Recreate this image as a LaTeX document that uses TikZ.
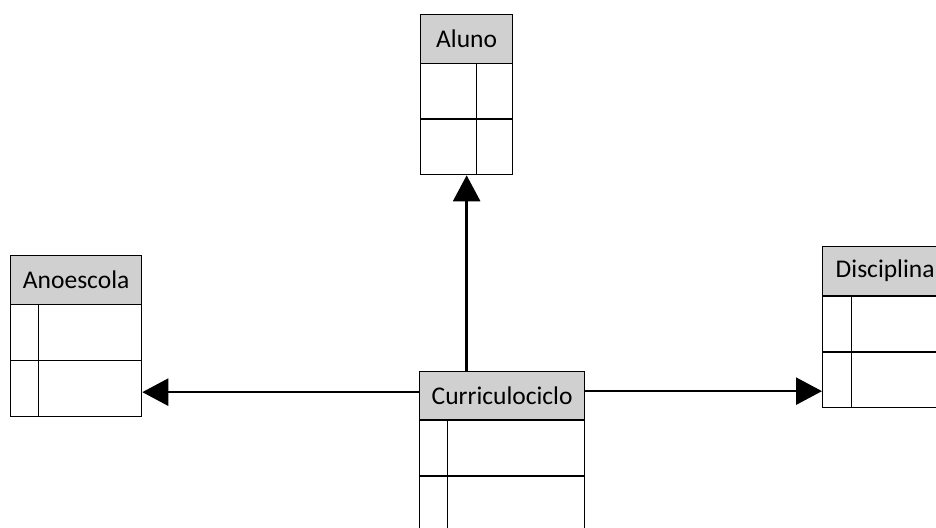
\documentclass[tikz,border=0pt]{standalone}
\usepackage{fontspec}
\setmainfont{Carlito}
\usepackage{tikz}
\usetikzlibrary{arrows.meta,calc}
\definecolor{headgray}{RGB}{208,208,208}
\tikzset{
  tblhead/.style={draw,line width=1.3pt,fill=headgray,anchor=north west,inner sep=0pt,minimum height=49pt,font=\fontsize{25.5}{30}\selectfont},
  tblcell/.style={draw,line width=1.3pt,anchor=north west,inner sep=0pt,minimum height=56pt},
  link/.style={line width=2.6pt,-{Triangle[length=26pt,width=27pt]}}
}
\begin{document}
\begin{tikzpicture}[x=1pt,y=-1pt]
  \clip (0,0) rectangle (936,527); % page frame
  \node[tblhead,minimum width=92pt] (aluno) at (420,14) {Aluno}; % Aluno header
  \foreach \r/\y in {1/63,2/118} {
    \node[tblcell,minimum width=56pt] (aluA\r) at (420,\y) {}; % Aluno left column
    \node[tblcell,minimum width=36pt] (aluB\r) at (476,\y) {}; % Aluno right column
  }
  \node[tblhead,minimum width=131pt] (anoescola) at (10,255) {Anoescola}; % Anoescola header
  \foreach \r/\y in {1/304,2/360} {
    \node[tblcell,minimum width=28pt] (anoA\r) at (10,\y) {}; % Anoescola key column
    \node[tblcell,minimum width=103pt] (anoB\r) at (38,\y) {}; % Anoescola field column
  }
  \node[tblhead,minimum width=125pt] (disciplina) at (822,246) {Disciplina}; % Disciplina header
  \foreach \r/\y in {1/296,2/351} {
    \node[tblcell,minimum width=29pt] (disA\r) at (822,\y) {}; % Disciplina key column
    \node[tblcell,minimum width=96pt] (disB\r) at (851,\y) {}; % Disciplina field column
  }
  \node[tblhead,minimum width=165pt] (curric) at (419,371) {Curriculociclo}; % Curriculociclo header
  \foreach \r/\y in {1/419,2/476} {
    \node[tblcell,minimum width=28pt] (curA\r) at (419,\y) {}; % Curriculociclo key column
    \node[tblcell,minimum width=137pt] (curB\r) at (447,\y) {}; % Curriculociclo field column
  }
  \draw[link] (curric.north -| aluno) -- (aluno |- aluA2.south); % to Aluno
  \draw[link] ([yshift=4pt]curric.west) -- ([yshift=4pt]curric.west -| anoB2.east); % to Anoescola
  \draw[link] ([yshift=5pt]curric.east) -- ([yshift=5pt]curric.east -| disA2.west); % to Disciplina
\end{tikzpicture}
\end{document}
